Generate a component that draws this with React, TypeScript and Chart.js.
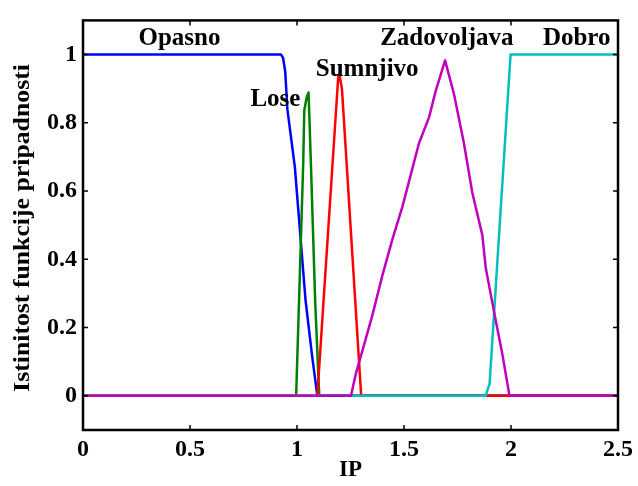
import React, { useEffect, useRef } from "react";
import { Chart, registerables } from "chart.js";

Chart.register(...registerables);

const FONT = "'Liberation Serif', 'Times New Roman', serif";

const xTickValues = [0, 0.5, 1, 1.5, 2, 2.5];
const yTickValues = [0, 0.2, 0.4, 0.6, 0.8, 1];

const opasnoX = [0, 0.925, 0.935, 0.945, 0.955, 0.99, 1.04, 1.07, 1.095, 2.5];
const opasnoY = [1, 1, 0.99, 0.95, 0.84, 0.67, 0.28, 0.12, 0, 0];

const loseX = [0, 0.996, 1.029, 1.034, 1.045, 1.054, 1.065, 1.085, 1.104, 2.5];
const loseY = [0, 0, 0.68, 0.836, 0.874, 0.889, 0.68, 0.276, 0, 0];

const sumnjivoX = [0, 1.095, 1.193, 1.2, 1.21, 1.3, 2.5];
const sumnjivoY = [0, 0, 0.937, 0.935, 0.9, 0, 0];

const zadovoljavaX = [0, 1.252, 1.275, 1.314, 1.353, 1.399, 1.446, 1.493, 1.57, 1.617, 1.648, 1.692, 1.734, 1.78, 1.819, 1.866, 1.882, 1.92, 1.959, 1.993, 2.5];
const zadovoljavaY = [0, 0, 0.065, 0.151, 0.238, 0.353, 0.459, 0.555, 0.74, 0.816, 0.893, 0.983, 0.883, 0.74, 0.596, 0.471, 0.375, 0.249, 0.124, 0, 0];

const dobroX = [0, 1.881, 1.9, 1.998, 2.5];
const dobroY = [0, 0, 0.036, 1, 1];

const setNames = ["Opasno", "Lose", "Sumnjivo", "Zadovoljava", "Dobro"];
const labelX = [0.451, 0.899, 1.328, 1.7, 2.307];
const labelY = [1.047, 0.868, 0.955, 1.047, 1.047];

const xTitle = "IP";
const yTitle = "Istinitost funkcije pripadnosti";

function pts(xs: number[], ys: number[]) {
  return xs.map((x, i) => ({ x, y: ys[i] }));
}

const framePlugin = {
  id: "matlabFrame",
  afterDraw(chart: any) {
    const { ctx, chartArea } = chart;
    const { left, right, top, bottom } = chartArea;
    const xs = chart.scales.x;
    const ys = chart.scales.y;
    ctx.save();
    // annotations
    ctx.fillStyle = "#000";
    ctx.font = `bold 25px ${FONT}`;
    ctx.textAlign = "center";
    ctx.textBaseline = "middle";
    setNames.forEach((n, i) => {
      ctx.fillText(n, xs.getPixelForValue(labelX[i]), ys.getPixelForValue(labelY[i]));
    });
    // frame
    ctx.strokeStyle = "#000";
    ctx.lineWidth = 2.5;
    ctx.strokeRect(left, top, right - left, bottom - top);
    ctx.lineWidth = 1.5;
    const tl = 5;
    ctx.beginPath();
    xTickValues.forEach((v) => {
      const px = xs.getPixelForValue(v);
      ctx.moveTo(px, bottom);
      ctx.lineTo(px, bottom - tl);
      ctx.moveTo(px, top);
      ctx.lineTo(px, top + tl);
    });
    yTickValues.forEach((v) => {
      const py = ys.getPixelForValue(v);
      ctx.moveTo(left, py);
      ctx.lineTo(left + tl, py);
      ctx.moveTo(right, py);
      ctx.lineTo(right - tl, py);
    });
    ctx.stroke();
    // axis titles
    ctx.font = `bold 23px ${FONT}`;
    ctx.textAlign = "center";
    ctx.textBaseline = "middle";
    ctx.fillText(xTitle, (left + right) / 2, 470);
    ctx.translate(23, 228);
    ctx.rotate(-Math.PI / 2);
    ctx.scale(1.12, 1);
    ctx.fillText(yTitle, 0, 0);
    ctx.restore();
  },
};

export default function App() {
  const ref = useRef<HTMLCanvasElement>(null);
  useEffect(() => {
    if (!ref.current) return;
    const mk = (label: string, xs: number[], ys: number[], color: string, order: number) => ({
      label,
      data: pts(xs, ys),
      borderColor: color,
      backgroundColor: color,
      borderWidth: 2.5,
      pointRadius: 0,
      tension: 0,
      fill: false,
      order,
      borderJoinStyle: "round" as const,
    });
    const chart = new Chart(ref.current, {
      type: "line",
      data: {
        datasets: [
          mk(setNames[0], opasnoX, opasnoY, "#0000ff", 4),
          mk(setNames[1], loseX, loseY, "#008000", 3),
          mk(setNames[2], sumnjivoX, sumnjivoY, "#ff0000", 2),
          mk(setNames[3], zadovoljavaX, zadovoljavaY, "#bf00bf", 0),
          mk(setNames[4], dobroX, dobroY, "#00bfbf", 1),
        ],
      },
      options: {
        animation: false,
        responsive: false,
        layout: { padding: { left: 0, right: 19, top: 15, bottom: 0 } },
        plugins: { legend: { display: false }, tooltip: { enabled: false } },
        scales: {
          x: {
            type: "linear",
            min: 0,
            max: 2.5,
            grid: { display: false, drawTicks: false },
            border: { display: false },
            afterBuildTicks: (s: any) => {
              s.ticks = xTickValues.map((v) => ({ value: v }));
            },
            afterFit: (s: any) => {
              s.height = 56;
            },
            ticks: {
              color: "#000",
              padding: 5,
              maxRotation: 0,
              font: { family: FONT, size: 24, weight: "bold" },
              callback: (v: any) => String(v),
            },
          },
          y: {
            type: "linear",
            min: -0.1,
            max: 1.1,
            grid: { display: false, drawTicks: false },
            border: { display: false },
            afterBuildTicks: (s: any) => {
              s.ticks = yTickValues.map((v) => ({ value: v }));
            },
            afterFit: (s: any) => {
              s.width = 83;
            },
            ticks: {
              color: "#000",
              padding: 6,
              font: { family: FONT, size: 24, weight: "bold" },
              callback: (v: any) => String(Math.round(v * 10) / 10),
            },
          },
        },
      },
      plugins: [framePlugin],
    });
    return () => chart.destroy();
  }, []);
  return (
    <div style={{ position: "fixed", left: 0, top: 0, width: 638, height: 486, background: "#fff" }}>
      <canvas ref={ref} width={638} height={486} style={{ display: "block" }} />
    </div>
  );
}
